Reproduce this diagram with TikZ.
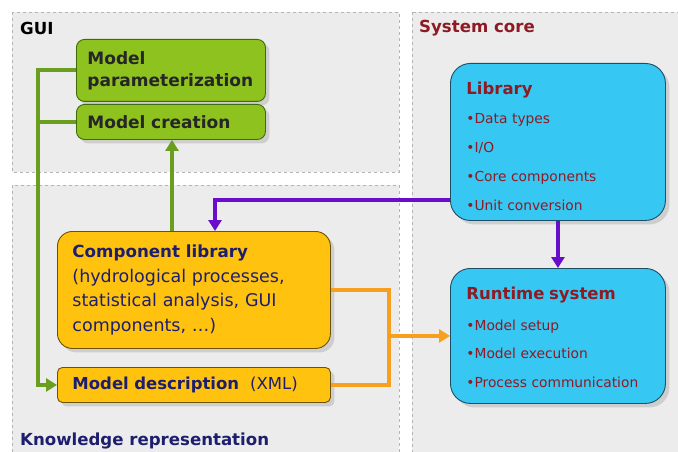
\documentclass[tikz,border=0pt]{standalone}
\usepackage{fontspec}
\setmainfont{DejaVu Sans}
\usetikzlibrary{arrows.meta,shadows}

\definecolor{panelgray}{HTML}{ECECEC}
\definecolor{paneledge}{HTML}{B4B4B4}
\definecolor{guigreen}{HTML}{8DC21F}
\definecolor{guiedge}{HTML}{3F6A0A}
\definecolor{greenline}{HTML}{6A9E1E}
\definecolor{kryellow}{HTML}{FFC30F}
\definecolor{kredge}{HTML}{6E5200}
\definecolor{orangeline}{HTML}{F7A01E}
\definecolor{corecyan}{HTML}{36C8F2}
\definecolor{coreedge}{HTML}{1E4E66}
\definecolor{purpleline}{HTML}{6A0CCC}
\definecolor{darkred}{HTML}{8E1A24}
\definecolor{navy}{HTML}{1E1E6E}

\tikzset{
  panel/.style={fill=panelgray, draw=paneledge, dashed, line width=0.8pt},
  boxbase/.style={anchor=north west, align=left, inner xsep=10pt, inner ysep=0pt,
    line width=0.9pt, drop shadow={shadow xshift=4pt, shadow yshift=-4pt, fill=black!30}},
  greenbox/.style={boxbase, fill=guigreen, draw=guiedge, rounded corners=8pt,
    text=black!85, font=\fontsize{17}{20}\selectfont\bfseries},
  yellowbox/.style={boxbase, fill=kryellow, draw=kredge, text=navy},
  cyanbox/.style={boxbase, fill=corecyan, draw=coreedge, rounded corners=20pt, text=darkred,
    inner xsep=16pt},
  conn/.style={line width=4pt},
  tip/.style={-{Triangle[length=11pt,width=13pt]}},
  paneltitle/.style={anchor=west, inner sep=0pt, font=\fontsize{16.6}{20}\selectfont\bfseries}
}

\begin{document}
\begin{tikzpicture}[x=1pt,y=-1pt]
  \useasboundingbox (0,0) rectangle (678,452);

  % panels
  \path[panel] (12,12) rectangle (399,172);
  \path[panel] (12,185) rectangle (399,470);
  \path[panel] (412,12) rectangle (700,470);

  \node[paneltitle, text=black] (guititle) at (20,28) {GUI};
  \node[paneltitle, text=darkred] (coretitle) at (419,28) {System core};
  \node[paneltitle, text=navy] (krtitle) at (20,441) {Knowledge representation};

  % GUI boxes
  \node[greenbox, minimum width=189pt, minimum height=62pt, text width=167pt,
        inner xsep=11pt, font=\fontsize{17}{22}\selectfont\bfseries] (param) at (76,39)
        {Model\\parameterization};
  \node[greenbox, minimum width=189pt, minimum height=35pt, text width=167pt,
        inner xsep=11pt] (create) at (76,104)
        {Model creation};

  % knowledge representation boxes
  \node[yellowbox, rounded corners=15pt, minimum width=273pt, minimum height=117pt, text width=243pt,
        inner xsep=15pt, font=\fontsize{17.5}{24.7}\selectfont] (complib) at (57,231)
        {{\fontsize{16.7}{20}\selectfont\bfseries Component library}\\(hydrological processes,\\statistical analysis, GUI\\components, \dots)};
  \node[yellowbox, rounded corners=5pt, minimum width=273pt, minimum height=35pt, text width=243pt,
        inner xsep=15pt, font=\fontsize{16.5}{20}\selectfont] (desc) at (57,367)
        {\textbf{Model description}\hspace{11pt}(XML)};

  % system core boxes
  \node[cyanbox, minimum width=215pt, minimum height=157pt, text width=183pt,
        font=\fontsize{13.8}{29}\selectfont] (lib) at (450,63)
        {{\fontsize{16.5}{20}\selectfont\bfseries\rule{0pt}{21pt}Library}\\
         \textbullet Data types\\ \textbullet I/O\\ \textbullet Core components\\ \textbullet Unit conversion};
  \node[cyanbox, minimum width=215pt, minimum height=135pt, text width=183pt,
        font=\fontsize{13.8}{28.5}\selectfont] (rt) at (450,268)
        {{\fontsize{16.5}{20}\selectfont\bfseries\rule{0pt}{15pt}Runtime system}\\[2pt]
         \textbullet Model setup\\ \textbullet Model execution\\ \textbullet Process communication};

  % routing columns and rows
  \coordinate (gx) at (38,0);
  \coordinate (ux) at (172,0);
  \coordinate (px) at (215,0);
  \coordinate (py) at (0,200);
  \coordinate (ox) at (389,0);

  % green connectors
  \draw[conn, greenline, tip] (param.west) -- (param.west -| gx) |- (desc.west);
  \draw[conn, greenline] (create.west) -- (create.west -| gx);
  \draw[conn, greenline, tip] (complib.north -| ux) -- (create.south -| ux);

  % purple connectors
  \draw[conn, purpleline, tip] (lib.west |- py) -| (complib.north -| px);
  \draw[conn, purpleline, tip] (lib.south) -- (rt.north);

  % orange connectors
  \draw[conn, orangeline] (complib.east) -- (complib.east -| ox) |- (desc.east);
  \draw[conn, orangeline, tip] (ox |- rt.west) -- (rt.west);
\end{tikzpicture}
\end{document}
